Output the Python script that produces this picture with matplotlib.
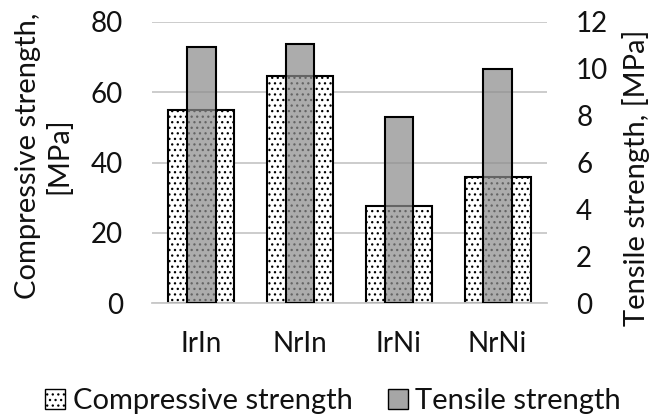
import matplotlib.pyplot as plt
import matplotlib as mpl
import numpy as np
from matplotlib.patches import Patch

plt.rcParams['font.family'] = ['Lato', 'DejaVu Sans']
mpl.rcParams['hatch.linewidth'] = 0.9
mpl.rcParams['hatch.color'] = '#222222'

categories = ['IrIn', 'NrIn', 'IrNi', 'NrNi']
compressive = [55, 64.5, 27.5, 36]
tensile = [10.95, 11.05, 7.95, 10.0]

FS = 20
TXT = '#111111'

fig = plt.figure(figsize=(6.51, 4.18), dpi=100)
ax = fig.add_axes([152/651, 1-303/418, 395/651, 281/418])
ax2 = ax.twinx()

x = np.arange(len(categories))
ax.bar(x, compressive, width=0.67, facecolor='white', edgecolor='black',
       linewidth=1.5, hatch='...', zorder=2)
ax2.bar(x, tensile, width=0.29, facecolor='#8c8c8c', alpha=0.72,
        edgecolor='none', zorder=3)
ax2.bar(x, tensile, width=0.29, facecolor='none', edgecolor='black',
        linewidth=1.5, zorder=4)

ax.set_xlim(-0.5, 3.5)
ax.set_ylim(0, 80)
ax2.set_ylim(0, 12)
ax.set_yticks([0, 20, 40, 60, 80])
ax2.set_yticks([0, 2, 4, 6, 8, 10, 12])
ax.set_xticks(x)
ax.set_xticklabels(categories)

ax.yaxis.grid(True, color='#c8c8c8', linewidth=1.3, zorder=0)
ax.set_axisbelow(True)
for a in (ax, ax2):
    for s in a.spines.values():
        s.set_visible(False)
    a.tick_params(length=0, labelsize=FS, colors=TXT)
ax.spines['bottom'].set_visible(True)
ax.spines['bottom'].set_color('#c8c8c8')
ax.spines['bottom'].set_linewidth(1.3)
ax.tick_params(axis='y', pad=21)
ax2.tick_params(axis='y', pad=21)
ax.tick_params(axis='x', pad=20)

# axis titles placed as figure text so the two-line title stays centred
fig.text(44/651, 1-156/418, 'Compressive strength,\n[MPa]', fontsize=21,
         color=TXT, rotation=90, ha='center', va='center',
         multialignment='center', linespacing=1.2)
fig.text(636/651, 1-178/418, 'Tensile strength, [MPa]', fontsize=21,
         color=TXT, rotation=90, ha='center', va='center')

handles = [Patch(facecolor='white', edgecolor='black', hatch='...', label='Compressive strength'),
           Patch(facecolor='#a6a6a6', edgecolor='black', label='Tensile strength')]
fig.legend(handles=handles, loc='center', bbox_to_anchor=(333/651, 1-401/418), ncol=2,
           frameon=False, fontsize=21, handlelength=0.7, handleheight=0.7,
           handletextpad=0.25, columnspacing=1.2, labelcolor=TXT)

fig.savefig('out.png', dpi=100)
